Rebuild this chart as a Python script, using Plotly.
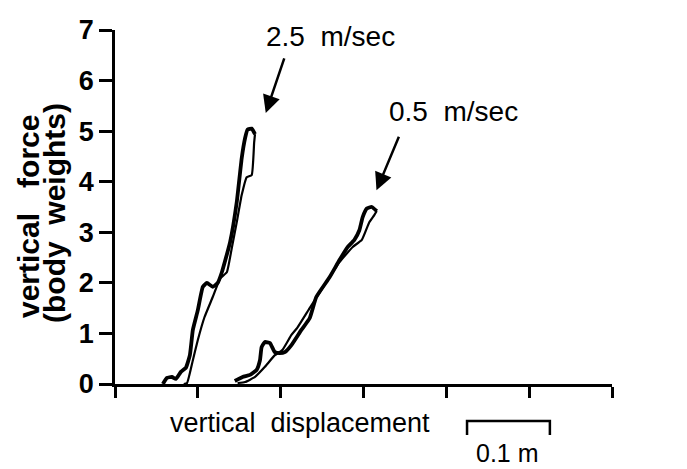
import plotly.graph_objects as go

# 2.5 m/sec loop (loading = thick, unloading = thin)
fast_load_x = [0.0578, 0.0627, 0.0687, 0.0735, 0.0795, 0.0855, 0.0904, 0.094, 0.100, 0.106, 0.111, 0.118, 0.124,
               0.129, 0.139, 0.147, 0.153, 0.157, 0.160, 0.165, 0.169]
fast_load_y = [0.0, 0.12, 0.14, 0.10, 0.24, 0.32, 0.57, 1.07, 1.46, 1.92, 2.00, 1.92, 2.00,
               2.21, 2.81, 3.60, 4.47, 4.86, 5.03, 5.05, 4.94]
fast_unload_x = [0.169, 0.168, 0.165, 0.159, 0.153, 0.147, 0.141, 0.135, 0.127, 0.118, 0.108, 0.100, 0.094, 0.087, 0.083]
fast_unload_y = [4.94, 4.78, 4.13, 4.09, 3.74, 3.20, 2.69, 2.21, 2.09, 1.72, 1.32, 0.87, 0.47, 0.02, 0.0]

# 0.5 m/sec loop
slow_load_x = [0.1446, 0.154, 0.163, 0.171, 0.175, 0.177, 0.181, 0.187, 0.193, 0.199, 0.205, 0.213, 0.225, 0.235,
               0.243, 0.259, 0.271, 0.281, 0.289, 0.295, 0.299, 0.304, 0.310, 0.316]
slow_load_y = [0.06, 0.14, 0.18, 0.28, 0.47, 0.73, 0.83, 0.81, 0.63, 0.61, 0.63, 0.77, 1.07, 1.30,
               1.72, 2.11, 2.45, 2.71, 2.85, 3.04, 3.30, 3.47, 3.50, 3.42]
slow_unload_x = [0.316, 0.313, 0.307, 0.298, 0.287, 0.271, 0.253, 0.235, 0.220, 0.213, 0.202, 0.193, 0.181, 0.169,
                 0.157, 0.148]
slow_unload_y = [3.42, 3.34, 3.20, 2.85, 2.71, 2.41, 1.96, 1.50, 1.11, 0.97, 0.67, 0.57, 0.34, 0.14, 0.04, 0.02]

x_ticks = [0, 0.1, 0.2, 0.3, 0.4, 0.5, 0.6]
y_ticks = [0, 1, 2, 3, 4, 5, 6, 7]

FONT = "Liberation Sans, Arial, sans-serif"

fig = go.Figure()
fig.add_trace(go.Scatter(x=fast_load_x, y=fast_load_y, mode="lines",
                         line=dict(color="black", width=3.8, shape="spline", smoothing=0.4)))
fig.add_trace(go.Scatter(x=fast_unload_x, y=fast_unload_y, mode="lines",
                         line=dict(color="black", width=2.2, shape="spline", smoothing=0.4)))
fig.add_trace(go.Scatter(x=slow_load_x, y=slow_load_y, mode="lines",
                         line=dict(color="black", width=3.8, shape="spline", smoothing=0.4)))
fig.add_trace(go.Scatter(x=slow_unload_x, y=slow_unload_y, mode="lines",
                         line=dict(color="black", width=2.2, shape="spline", smoothing=0.4)))

fig.update_layout(
    width=687, height=469,
    margin=dict(l=115, r=75, t=30, b=85),
    paper_bgcolor="white", plot_bgcolor="white",
    showlegend=False,
    font=dict(family=FONT, color="black"),
    xaxis=dict(range=[0, 0.6], tickvals=x_ticks, showticklabels=False,
               ticks="outside", ticklen=11, tickwidth=2.5, tickcolor="black",
               showline=True, linecolor="black", linewidth=2.5,
               showgrid=False, zeroline=False),
    yaxis=dict(range=[0, 7], tickvals=y_ticks, ticktext=[str(v) for v in y_ticks],
               ticks="outside", ticklen=13, tickwidth=2.5, tickcolor="black",
               showline=True, linecolor="black", linewidth=2.5,
               showgrid=False, zeroline=False,
               tickfont=dict(family=FONT, size=27, color="black", weight="bold")),
)

# y-axis title (two lines as separate rotated texts)
fig.add_annotation(text="vertical   force", textangle=-90,
                   xref="paper", yref="paper", x=-(115 - 28) / 497, y=(384 - 217) / 354,
                   xanchor="center", yanchor="middle",
                   showarrow=False, font=dict(family=FONT, size=30, color="black", weight="bold"))
fig.add_annotation(text="(body  weights)", textangle=-90,
                   xref="paper", yref="paper", x=-(115 - 55) / 497, y=(384 - 213) / 354,
                   xanchor="center", yanchor="middle",
                   showarrow=False, font=dict(family=FONT, size=30, color="black", weight="bold"))

# x-axis title
fig.add_annotation(text="vertical  displacement", xref="x", yref="paper",
                   x=(300 - 115) / 830, y=(384 - 423) / 354, xanchor="center", yanchor="middle",
                   showarrow=False, font=dict(family=FONT, size=27, color="black"))

# scale bar
fig.add_shape(type="path", xref="x", yref="paper",
              path="M 0.425,-0.144 L 0.425,-0.1045 L 0.525,-0.1045 L 0.525,-0.144",
              line=dict(color="black", width=2.5))
fig.add_annotation(text="0.1 m", xref="x", yref="paper", x=(508 - 115) / 830, y=(384 - 453) / 354,
                   xanchor="center", yanchor="middle", showarrow=False,
                   font=dict(family=FONT, size=25, color="black"))

# speed labels with arrows
fig.add_annotation(text="", x=0.182, y=5.36, ax=19, ay=-56, showarrow=True,
                   arrowhead=2, arrowsize=1.4, arrowwidth=2.5, arrowcolor="black")
fig.add_annotation(text="2.5  m/sec", xref="paper", yref="paper",
                   x=(330 - 115) / 497, y=(384 - 37) / 354, xanchor="center", yanchor="middle",
                   showarrow=False, font=dict(family=FONT, size=28, color="black"))
fig.add_annotation(text="", x=0.3157, y=3.83, ax=23, ay=-55, showarrow=True,
                   arrowhead=2, arrowsize=1.4, arrowwidth=2.5, arrowcolor="black")
fig.add_annotation(text="0.5  m/sec", xref="paper", yref="paper",
                   x=(453 - 115) / 497, y=(384 - 112) / 354, xanchor="center", yanchor="middle",
                   showarrow=False, font=dict(family=FONT, size=28, color="black"))

fig.write_html("out.html")
